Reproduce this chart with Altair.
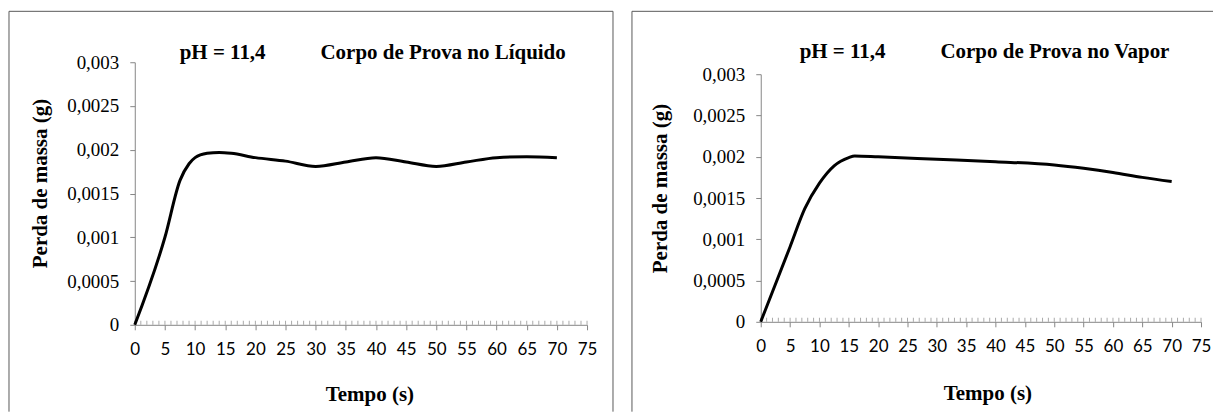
import altair as alt
import pandas as pd

# ---- data ----
t_liq = [0, 5, 7.5, 9, 10, 12, 14, 16, 20, 25, 30, 35, 40, 45, 50, 55, 60, 65, 70]
m_liq = [0, 0.00100, 0.00165, 0.00184, 0.00191, 0.00196, 0.00197, 0.00196, 0.00191, 0.00187,
         0.00181, 0.00186, 0.00191, 0.00186, 0.00181, 0.00186, 0.00191, 0.00192, 0.00191]

t_vap = [0, 5, 7.5, 10, 12.5, 15, 16, 20, 30, 40, 50, 55, 60, 65, 70]
m_vap = [0, 0.00091, 0.00137, 0.00168, 0.00189, 0.00199, 0.00201, 0.00200, 0.00197, 0.00194,
         0.00190, 0.00186, 0.00181, 0.00175, 0.00170]

x_ticks = list(range(0, 80, 5))
minor_ticks = list(range(0, 76))
y_ticks = [0, 0.0005, 0.001, 0.0015, 0.002, 0.0025, 0.003]

titles_ph = ["pH = 11,4", "pH = 11,4"]
titles_cp = ["Corpo de Prova no Líquido", "Corpo de Prova no Vapor"]
x_title = "Tempo (s)"
y_title = "Perda de massa (g)"

SERIF = "Liberation Serif"
SANS = "Lato"
AXIS_GRAY = "#868686"
BORDER = "#595959"
TFS = 21


def one():
    return pd.DataFrame({"a": [0]})


def panel(t, m, w, h, ytop, ph_txt, cp_txt, ph_x, ph_y, cp_x, ytx, yty, xtx, xty, borders):
    df = pd.DataFrame({"t": t, "m": m})
    xs = alt.Scale(domain=[0, 75], nice=False, zero=False)
    ys = alt.Scale(domain=[0, 0.003], nice=False, range=[h, ytop])
    xaxis = alt.Axis(values=x_ticks, title=x_title, grid=False, tickSize=5,
                     labelPadding=12, labelFont=SANS, labelFontSize=17, labelColor="#000000",
                     domainColor=AXIS_GRAY, tickColor=AXIS_GRAY, labelFlush=False,
                     titleFont=SERIF, titleFontSize=TFS, titleFontWeight="bold", titleColor="#000000",
                     titleX=xtx, titleY=xty, titleAlign="center", titleBaseline="alphabetic",
                     titleAngle=0)
    yaxis = alt.Axis(values=y_ticks, title=y_title, grid=False, tickSize=5,
                     labelPadding=11, labelFont=SERIF, labelFontSize=19, labelColor="#000000",
                     labelExpr="replace(toString(datum.value), '.', ',')",
                     domainColor=AXIS_GRAY, tickColor=AXIS_GRAY, labelFlush=False,
                     titleFont=SERIF, titleFontSize=TFS, titleFontWeight="bold", titleColor="#000000",
                     titleX=ytx, titleY=yty, titleAngle=270, titleAlign="center",
                     titleBaseline="middle")

    line = alt.Chart(df).mark_line(color="black", strokeWidth=3, interpolate="monotone").encode(
        x=alt.X("t:Q", scale=xs, axis=xaxis),
        y=alt.Y("m:Q", scale=ys, axis=yaxis),
    )
    mdf = pd.DataFrame({"t": minor_ticks, "m": [0] * len(minor_ticks)})
    minor = alt.Chart(mdf).mark_tick(orient="vertical", size=4, thickness=1, color=AXIS_GRAY,
                                     yOffset=-2).encode(
        x=alt.X("t:Q", scale=xs, axis=xaxis),
        y=alt.Y("m:Q", scale=ys, axis=yaxis),
    )
    ph = alt.Chart(one()).mark_text(text=ph_txt, font=SERIF, fontSize=TFS, fontWeight="bold",
                                    align="center", baseline="alphabetic", color="black").encode(
        x=alt.value(ph_x), y=alt.value(ph_y))
    cp = alt.Chart(one()).mark_text(text=cp_txt, font=SERIF, fontSize=TFS, fontWeight="bold",
                                    align="left", baseline="alphabetic", color="black").encode(
        x=alt.value(cp_x), y=alt.value(ph_y))
    rules = []
    for (x1, x2, y1, y2) in borders:
        rules.append(alt.Chart(one()).mark_rule(color=BORDER, strokeWidth=1).encode(
            x=alt.value(x1), x2=alt.value(x2), y=alt.value(y1), y2=alt.value(y2)))
    return alt.layer(*rules, minor, line, ph, cp).properties(width=w, height=h)


# both plot origins sit at y=73; the liquid panel's 0,003 tick lies 12 px above it
left = panel(t_liq, m_liq, 453, 251, -12, titles_ph[0], titles_cp[0],
             222 - 134, -15, 186, -94, 109, 235, 76,
             [(-126, 479, -63, -63), (-126, -126, -63, 338), (479, 479, -63, 338)])
right = panel(t_vap, m_vap, 441, 248, 0, titles_ph[1], titles_cp[1],
              82, -16, 180, -100, 114, 227, 78,
              [(-129, 453, -63, -63), (-129, -129, -63, 338)])

chart = alt.hconcat(left, right, spacing=17).properties(
    padding={"left": 8, "top": 10, "right": 0, "bottom": 0},
    background="white",
).configure_view(strokeWidth=0)

chart.save("out.html", embed_options={"renderer": "svg", "actions": False})
